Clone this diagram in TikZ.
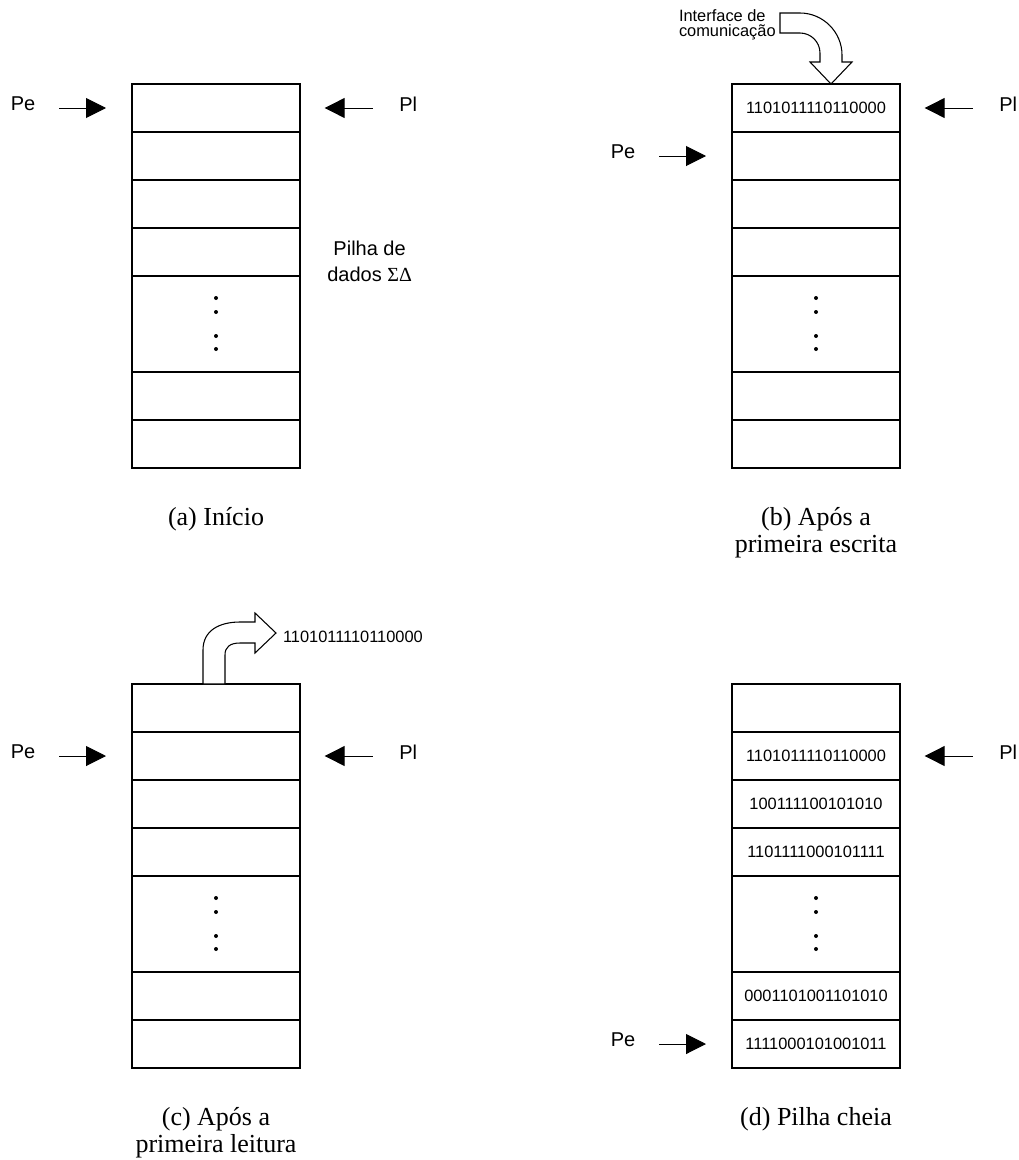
\documentclass[tikz,border=0pt]{standalone}
\usepackage{fontspec}
\setmainfont{Liberation Serif}
\setsansfont{Liberation Sans}
\usetikzlibrary{arrows.meta,positioning}

\begin{document}
\begin{tikzpicture}[x=0.75pt,y=-0.75pt,
  cell/.style={draw,line width=1pt,minimum width=126pt,minimum height=36pt,inner sep=0pt},
  lbl/.style={font=\sffamily\fontsize{15}{20}\selectfont,inner sep=0pt,outer sep=0pt},
  bin/.style={font=\sffamily\fontsize{12.3}{11}\selectfont,inner sep=0pt,outer sep=0pt},
  capt/.style={font=\fontsize{19.5}{20}\selectfont,align=center,inner sep=0pt,outer sep=0pt},
  ptr/.style={-{Triangle[length=15pt,width=15pt]},line width=0.75pt},
  blk/.style={draw,fill=white,line width=0.8pt}
]
\useasboundingbox (0,0) rectangle (1019,1160);

% the four stacks
\foreach \s/\cx/\ty in {a/216/84,b/816/84,c/216/684,d/816/684}{
  \foreach \i/\dy in {1/24,2/72,3/120,4/168,6/312,7/360}
    \node[cell] (\s\i) at (\cx,\ty+\dy) {};
  \node[cell,minimum height=72pt] (\s5) at (\cx,\ty+240) {};
  \fill (\s5) ++(0,-26) circle[radius=1.5pt] ++(0,14) circle[radius=1.5pt]
    ++(0,24) circle[radius=1.5pt] ++(0,13) circle[radius=1.5pt];
}

% pointers
\foreach \e/\l in {a1/a1,b2/b1,c2/c2,d7/d2}{
  \node[lbl,left=72pt of \e,yshift=3pt] (pe\e) {Pe};
  \draw[ptr] ([xshift=-54pt]\e.west) -- ([xshift=-19pt]\e.west);
  \node[lbl,right=74pt of \l,yshift=3pt] (pl\l) {Pl};
  \draw[ptr] ([xshift=54pt]\l.east) -- ([xshift=18pt]\l.east);
}

\node[lbl,align=center,right=20pt of a4,yshift=-7pt] (pilha) {Pilha de\\dados {\rmfamily ΣΔ}};

% stored words
\node[bin] (tb1) at (b1) {1101011110110000};
\node[bin] (td2) at (d2) {1101011110110000};
\node[bin] (td3) at (d3) {100111100101010};
\node[bin] (td4) at (d4) {1101111000101111};
\node[bin] (td6) at (d6) {0001101001101010};
\node[bin] (td7) at (d7) {1111000101001011};

% write and read
\node[bin,align=left,anchor=north west] (iface) at (679,10) {Interface de\\comunicação};
\draw[blk] (780,13) -- (800,13) .. controls (823,13) and (842,32) .. (842,55)
  -- (842,62) -- (852,62) -- (831,84) -- (810,62) -- (820,62) -- (820,53)
  .. controls (820,42) and (811,33) .. (800,33) -- (780,33) -- cycle;
\draw[blk] (203,684) -- (203,650) .. controls (203,630) and (220,622) .. (240,622)
  -- (255,622) -- (255,613) -- (276,633) -- (255,653) -- (255,643) -- (240,643)
  .. controls (230,643) and (225,647) .. (225,655) -- (225,684) -- cycle;
\node[bin,anchor=west] (outc) at (283,636.5) {1101011110110000};

% captions
\node[capt,below=29pt of a7] (capa) {(a) Início};
\node[capt,below=29pt of b7] (capb) {(b) Após a\\primeira escrita};
\node[capt,below=29pt of c7] (capc) {(c) Após a\\primeira leitura};
\node[capt,below=29pt of d7] (capd) {(d) Pilha cheia};
\end{tikzpicture}
\end{document}
